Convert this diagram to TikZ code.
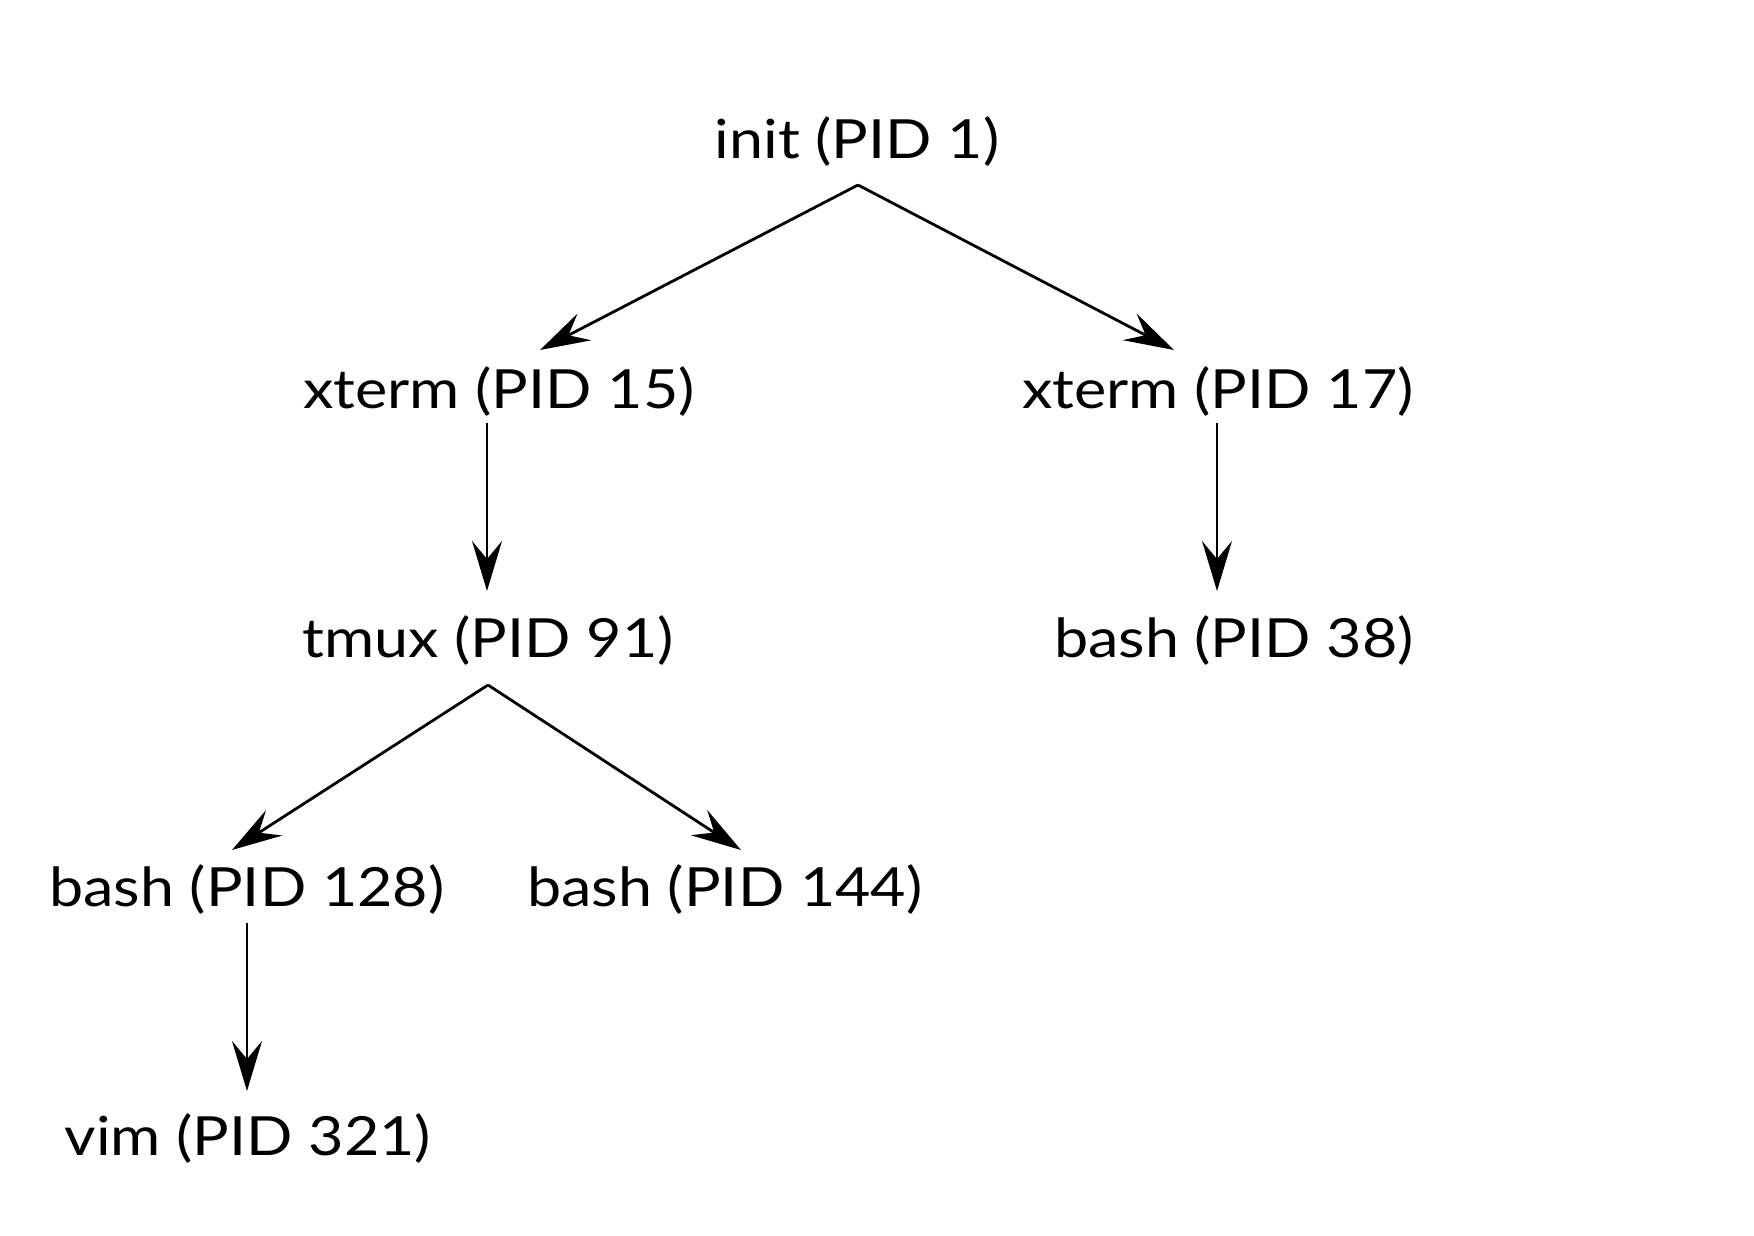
\documentclass[tikz,border=0pt]{standalone}
\usepackage{fontspec}
\setmainfont{Lato}[FakeStretch=1.13]
\usetikzlibrary{arrows.meta,calc}
\begin{document}
\begin{tikzpicture}[x=1pt,y=-1pt,
  proc/.style={anchor=base,inner sep=0pt,font=\fontsize{54}{60}\selectfont},
  conn/.style={line width=2.8pt,-{Stealth[length=50pt,width=30pt,inset=18pt]}}]
\useasboundingbox[fill=white] (0,0) rectangle (1754,1236);
\node[proc] (init) at (857,159) {init (PID 1)};
\node[proc] (x15) at (499,408) {xterm (PID 15)};
\node[proc] (x17) at (1218,408) {xterm (PID 17)};
\node[proc] (tmux) at (488,657) {tmux (PID 91)};
\node[proc] (b38) at (1234,657) {bash (PID 38)};
\node[proc] (b128) at (247,906) {bash (PID 128)};
\node[proc] (b144) at (725,906) {bash (PID 144)};
\node[proc] (vim) at (248,1155) {vim (PID 321)};
\draw[conn] ($(init.base)+(1,26)$) -- ($(x15.base)+(41,-58)$);
\draw[conn] ($(init.base)+(1,26)$) -- ($(x17.base)+(-44,-58)$);
\draw[conn] ($(x15.base)+(-12,15)$) -- ($(tmux.base)+(-1,-66)$);
\draw[conn] ($(x17.base)+(-1,15)$) -- ($(b38.base)+(-17,-66)$);
\draw[conn] ($(tmux.base)+(0,28)$) -- ($(b128.base)+(-15,-56)$);
\draw[conn] ($(tmux.base)+(0,28)$) -- ($(b144.base)+(16,-56)$);
\draw[conn] ($(b128.base)+(0,17)$) -- ($(vim.base)+(-1,-64)$);
\end{tikzpicture}
\end{document}
